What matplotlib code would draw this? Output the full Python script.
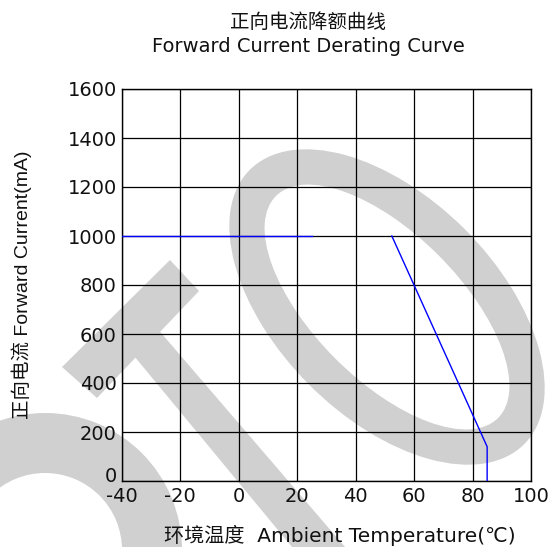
import matplotlib
matplotlib.use('Agg')
import matplotlib.pyplot as plt
from matplotlib.patches import Annulus, Polygon
from matplotlib.transforms import Affine2D, ScaledTranslation

plt.rcParams['axes.unicode_minus'] = False

# ---------------- data ----------------
x_ticks = [-40, -20, 0, 20, 40, 60, 80, 100]
y_ticks = [0, 200, 400, 600, 800, 1000, 1200, 1400, 1600]
flat_x = [-40, 25]
flat_y = [1000, 1000]
derate_x = [52.4, 85, 85]
derate_y = [1000, 140, 0]

title_cn = "正向电流降额曲线"
title_en = "Forward Current Derating Curve"
xlabel = "环境温度  Ambient Temperature(℃)"
ylabel = "正向电流 Forward Current(mA)"

W, H = 558, 547
fig = plt.figure(figsize=(W / 100, H / 100), dpi=100)
fig.patch.set_facecolor('white')

# ---------------- watermark (pixel coords, y down) ----------------
pix = Affine2D().scale(1, -1).translate(0, H)
wm = '#d0d0d0'
fig.add_artist(Annulus((387, 307), r=(194, 110), width=37, angle=45,
                       transform=pix, color=wm, zorder=-5, lw=0))
fig.add_artist(Annulus((45, 550), r=137, width=60,
                       transform=pix, color=wm, zorder=-5, lw=0))
fig.add_artist(Polygon([(170, 260), (199, 291), (97, 398), (62, 367)],
                       closed=True, transform=pix, color=wm, zorder=-5, lw=0))
fig.add_artist(Polygon([(150, 320), (345, 547), (292, 547), (125, 345)],
                       closed=True, transform=pix, color=wm, zorder=-5, lw=0))

# ---------------- axes ----------------
ax = fig.add_axes([121.7 / W, 1 - 481 / H, (531 - 121.7) / W, (481 - 89) / H])
ax.set_facecolor('none')
ax.set_xlim(x_ticks[0], x_ticks[-1])
ax.set_ylim(y_ticks[0], y_ticks[-1])
ax.set_xticks(x_ticks)
ax.set_yticks(y_ticks)
ax.grid(True, color='black', lw=0.9)
for s in ax.spines.values():
    s.set_color('black')
    s.set_linewidth(1.0)
ax.tick_params(axis='both', length=0, labelsize=14, labelcolor='#111111')
ax.tick_params(axis='y', pad=3.5)
ax.tick_params(axis='x', pad=4.5)
for lab in ax.get_xticklabels() + ax.get_yticklabels():
    lab.set_family('DejaVu Sans')
# lift the "0" label on the y axis a little, as in the reference
zero_lab = ax.get_yticklabels()[0]
zero_lab.set_transform(zero_lab.get_transform() +
                       ScaledTranslation(0, 7 / 100, fig.dpi_scale_trans))

ax.plot(flat_x, flat_y, color='#0000ff', lw=1.0, zorder=3)
ax.plot(derate_x, derate_y, color='#0000ff', lw=1.0, zorder=3)

# ---------------- texts ----------------
fam = ['DejaVu Sans', 'Noto Sans CJK SC']
fig.text(308 / W, 1 - 22 / H, title_cn, ha='center', va='center', fontsize=14,
         family=fam, color='#111111')
fig.text(308 / W, 1 - 46 / H, title_en, ha='center', va='center', fontsize=14,
         family=fam, color='#111111')
fig.text(340 / W, 1 - 535 / H, xlabel, ha='center', va='center', fontsize=14.5,
         family=fam, color='#111111')
fig.text(22 / W, 1 - 285 / H, ylabel, ha='center', va='center', rotation=90,
         fontsize=14, family=['Liberation Sans', 'Noto Sans CJK SC'], color='#111111')

fig.savefig('out.png', dpi=100)
